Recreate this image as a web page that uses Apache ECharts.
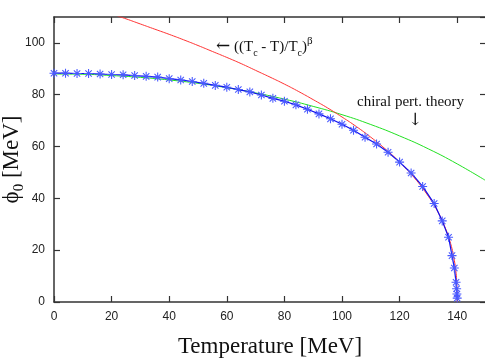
<!DOCTYPE html>
<html>
<head>
<meta charset="utf-8">
<script src="https://cdn.jsdelivr.net/npm/echarts@6/dist/echarts.min.js"></script>
<style>html,body{margin:0;padding:0;background:#fff}#c{width:485px;height:360px}</style>
</head>
<body>
<div id="c"></div>
<script>
// Blue: computed order parameter (stars)
const blueT = [0,4,8,12,16,20,24,28,32,36,40,44,48,52,56,60,64,68,72,76,80,84,88,92,96,100,104,108,112,116,120,124,128,132,134.8,137.0,138.2,139.0,139.6,139.8,139.9,140];
const blueP = [88.3,88.3,88.2,88.2,88.0,87.8,87.7,87.4,87.1,86.8,86.2,85.7,85.1,84.4,83.6,82.9,82.0,81.1,79.9,78.6,77.5,76.1,74.4,72.6,70.7,68.6,66.3,63.6,61.0,57.8,54.0,49.8,44.6,38.0,31.3,25.0,17.9,13.1,7.6,5.1,3.1,1.5];
// Red: critical scaling ((Tc - T)/Tc)^beta
const redT = [22,25,30,35,40,45,50,55,60,65,70,75,80,85,90,95,100,105,110,115,120,125,130,133,136,138,139,139.5,139.8,140];
const redP = [110.4,109.3,107.3,105.3,103.3,101.2,99.0,96.7,94.4,92.0,89.4,86.8,84.1,81.2,78.1,74.9,71.4,67.7,63.6,59.1,54.0,48.1,40.8,35.4,28.2,21.4,16.1,12.2,8.4,0];
// Green: chiral perturbation theory
const greenT = [0,10,20,30,40,50,60,70,80,90,100,110,120,130,140,150];
const greenP = [88.0,87.9,87.4,86.7,85.7,84.4,82.7,80.7,78.3,75.5,72.3,68.5,64.1,59.1,53.3,46.8];
const xTicks = [0,20,40,60,80,100,120,140];
const yTicks = [0,20,40,60,80,100];

const zip = (a,b) => a.map((v,i)=>[v,b[i]]);
const star = 'path://M-0.6,-5L0.6,-5L0.6,5L-0.6,5ZM-5,-0.6L5,-0.6L5,0.6L-5,0.6ZM-3.12,-3.96L3.96,3.12L3.12,3.96L-3.96,-3.12ZM3.12,-3.96L3.96,-3.12L-3.12,3.96L-3.96,3.12Z';
const serif = '"Liberation Serif","DejaVu Serif",serif';
const sans = '"Liberation Sans",Arial,sans-serif';
const axisCol = '#333';

const chart = echarts.init(document.getElementById('c'), null, {renderer:'canvas'});
const baseX = {
  type:'value', min:0, max:150, interval:20,
  axisLine:{show:true, onZero:false, lineStyle:{color:axisCol, width:1.5}},
  axisTick:{show:true, inside:true, length:6, lineStyle:{color:axisCol, width:1.2}},
  splitLine:{show:false}
};
const baseY = {
  type:'value', min:0, max:110, interval:20,
  axisLine:{show:true, onZero:false, lineStyle:{color:axisCol, width:1.5}},
  axisTick:{show:true, inside:true, length:6, lineStyle:{color:axisCol, width:1.2}},
  splitLine:{show:false}
};
chart.setOption({
  animation:false,
  grid:{left:54, right:-1, top:17, bottom:58, containLabel:false, outerBoundsMode:'none'},
  xAxis:[
    Object.assign({}, baseX, {
      position:'bottom',
      axisLabel:{show:true, margin:9, fontFamily:sans, fontSize:12, color:'#222',
        showMaxLabel:false,
        formatter:(v)=> xTicks.includes(v) ? String(v) : ''},
      name:'Temperature [MeV]', nameLocation:'middle', nameGap:33, nameMoveOverlap:false,
      nameTextStyle:{fontFamily:serif, fontSize:23, color:'#111'}
    }),
    Object.assign({}, baseX, {position:'top', axisLabel:{show:false}})
  ],
  yAxis:[
    Object.assign({}, baseY, {
      position:'left',
      axisLabel:{show:true, margin:9, fontFamily:sans, fontSize:12, color:'#222',
        showMaxLabel:false,
        formatter:(v)=> yTicks.includes(v) ? String(v) : ''},
      name:'{a|\u03D5}{s|0}{a| [MeV]}', nameLocation:'middle', nameGap:27, nameRotate:90,
      nameMoveOverlap:false,
      nameTextStyle:{fontFamily:serif, fontSize:23, color:'#111',
        rich:{a:{fontFamily:serif, fontSize:23, color:'#111', lineHeight:30, verticalAlign:'middle'},
              s:{fontFamily:serif, fontSize:15, color:'#111', lineHeight:30, verticalAlign:'bottom'}}}
    }),
    Object.assign({}, baseY, {position:'right', axisLine:{show:false, onZero:false}, axisLabel:{show:false}})
  ],
  series:[
    {type:'line', name:'chiral', data:zip(greenT, greenP), smooth:true, showSymbol:false,
     lineStyle:{color:'#22e022', width:1}, z:2},
    {type:'line', name:'scaling', data:zip(redT, redP), smooth:true, showSymbol:false,
     lineStyle:{color:'#ff3333', width:1}, z:3},
    {type:'line', name:'phi0', data:zip(blueT, blueP), smooth:false,
     symbol:star, symbolSize:9, symbolKeepAspect:true, showAllSymbol:true,
     itemStyle:{color:'#4a5aff'}, lineStyle:{color:'#1010ee', width:1.2}, z:4}
  ],
  graphic:[
    {type:'text', left:216, top:36, silent:true,
     style:{text:'{r|\u2190} ((T{s|c} - T)/T{s|c}){p|\u03B2}', fontFamily:serif, fontSize:15, fill:'#111',
       rich:{r:{fontFamily:'"DejaVu Serif",serif', fontSize:17, fill:'#111', lineHeight:22, verticalAlign:'middle'},
             s:{fontFamily:serif, fontSize:10, fill:'#111', lineHeight:22, verticalAlign:'bottom'},
             p:{fontFamily:serif, fontSize:11, fill:'#111', lineHeight:22, verticalAlign:'top'}}}},
    {type:'text', left:357, top:95, silent:true,
     style:{text:'chiral pert. theory', fontFamily:serif, fontSize:15, fill:'#111'}},
    {type:'text', left:408, top:112, silent:true,
     style:{text:'\u2193', fontFamily:'"DejaVu Serif",serif', fontSize:17, fill:'#111'}}
  ]
});
</script>
</body>
</html>
